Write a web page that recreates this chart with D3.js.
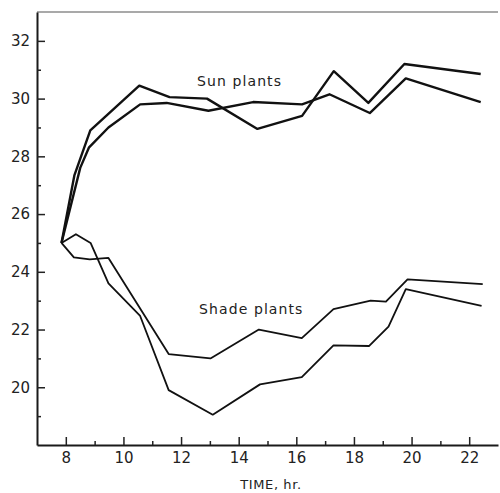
<!DOCTYPE html>
<html>
<head>
<meta charset="utf-8">
<script src="https://cdn.jsdelivr.net/npm/d3@7"></script>
<style>
  body { margin: 0; background: #fff; }
  svg { display: block; }
  .tick text { font-family: "DejaVu Sans", sans-serif; font-size: 15px; fill: #222; }
  .label { font-family: "DejaVu Sans", sans-serif; fill: #222; }
</style>
</head>
<body>
<div id="chartDiv"></div>
<script>
// sun plants, two runs
var sunATime = [7.85, 8.3, 8.85, 10.55, 11.6, 12.9, 14.65, 16.2, 17.3, 18.5, 19.75, 22.4];
var sunATemp = [25.0, 27.35, 28.9, 30.45, 30.05, 30.0, 28.95, 29.4, 30.95, 29.85, 31.2, 30.85];
var sunBTime = [7.85, 8.5, 8.8, 9.48, 10.58, 11.5, 12.95, 14.5, 16.2, 17.15, 18.55, 19.8, 22.4];
var sunBTemp = [25.0, 27.6, 28.3, 29.0, 29.8, 29.85, 29.58, 29.88, 29.8, 30.15, 29.5, 30.7, 29.88];
// shade plants, two runs
var shadeATime = [7.85, 8.35, 8.86, 9.48, 10.58, 11.57, 13.1, 14.74, 16.19, 17.29, 18.53, 19.2, 19.8, 22.43];
var shadeATemp = [25.0, 25.3, 25.0, 23.6, 22.47, 19.9, 19.05, 20.1, 20.35, 21.45, 21.43, 22.1, 23.4, 22.82];
var shadeBTime = [7.85, 8.28, 8.83, 9.48, 11.57, 13.02, 14.7, 16.19, 17.29, 18.58, 19.11, 19.86, 22.47];
var shadeBTemp = [25.0, 24.5, 24.43, 24.48, 21.15, 21.0, 22.0, 21.7, 22.71, 23.0, 22.97, 23.74, 23.57];

var xMajor = [8, 10, 12, 14, 16, 18, 20, 22];
var xMinor = [9, 11, 13, 15, 17, 19, 21];
var yMajor = [20, 22, 24, 26, 28, 30, 32];
var yMinor = [19, 21, 23, 25, 27, 29, 31];

var width = 500, height = 493;

var svg = d3.select("#chartDiv")
    .append("svg")
    .attr("width", width)
    .attr("height", height);

var x = d3.scaleLinear().domain([7, 23]).range([37, 498]);
var y = d3.scaleLinear().domain([18, 33]).range([445, 12]);

// top border, faint
svg.append("line")
    .attr("x1", x(7)).attr("x2", x(23))
    .attr("y1", y(33)).attr("y2", y(33))
    .attr("stroke", "#555")
    .attr("stroke-width", 1.2);

// x axis: major ticks with labels, minor ticks without
svg.append("g")
    .attr("transform", "translate(0," + y(18) + ")")
    .call(d3.axisBottom(x).tickValues(xMajor).tickSizeInner(-8).tickSizeOuter(0).tickPadding(7).tickFormat(d3.format("d")));
svg.append("g")
    .attr("transform", "translate(0," + y(18) + ")")
    .call(d3.axisBottom(x).tickValues(xMinor).tickSizeInner(-4).tickSizeOuter(0).tickFormat(""))
    .select(".domain").remove();

// y axis
svg.append("g")
    .attr("transform", "translate(" + x(7) + ",0)")
    .call(d3.axisLeft(y).tickValues(yMajor).tickSizeInner(-8).tickSizeOuter(0).tickPadding(7).tickFormat(d3.format("d")));
svg.append("g")
    .attr("transform", "translate(" + x(7) + ",0)")
    .call(d3.axisLeft(y).tickValues(yMinor).tickSizeInner(-4).tickSizeOuter(0).tickFormat(""))
    .select(".domain").remove();

svg.selectAll(".domain").attr("stroke", "#1a1a1a").attr("stroke-width", 2);
svg.selectAll(".tick line").attr("stroke", "#222").attr("stroke-width", 1.5);

var line = d3.line()
    .x(function (d) { return x(d[0]); })
    .y(function (d) { return y(d[1]); });

function pairs(t, v) {
    return t.map(function (d, i) { return [d, v[i]]; });
}

var series = [
    { data: pairs(sunATime, sunATemp), w: 2.4 },
    { data: pairs(sunBTime, sunBTemp), w: 2.4 },
    { data: pairs(shadeATime, shadeATemp), w: 1.8 },
    { data: pairs(shadeBTime, shadeBTemp), w: 1.8 }
];

svg.append("g")
    .selectAll("path")
    .data(series)
    .enter().append("path")
    .attr("d", function (d) { return line(d.data); })
    .attr("fill", "none")
    .attr("stroke", "#111")
    .attr("stroke-linejoin", "round")
    .attr("stroke-width", function (d) { return d.w; });

// labels
svg.append("text").attr("class", "label")
    .attr("x", 197).attr("y", 86)
    .style("font-size", "14px").style("letter-spacing", "1.1px")
    .text("Sun plants");
svg.append("text").attr("class", "label")
    .attr("x", 199).attr("y", 314)
    .style("font-size", "14px").style("letter-spacing", "1.1px")
    .text("Shade plants");
svg.append("text").attr("class", "label")
    .attr("x", 271).attr("y", 489)
    .attr("text-anchor", "middle")
    .style("font-size", "13px").style("letter-spacing", "0.6px")
    .text("TIME, hr.");
</script>
</body>
</html>
